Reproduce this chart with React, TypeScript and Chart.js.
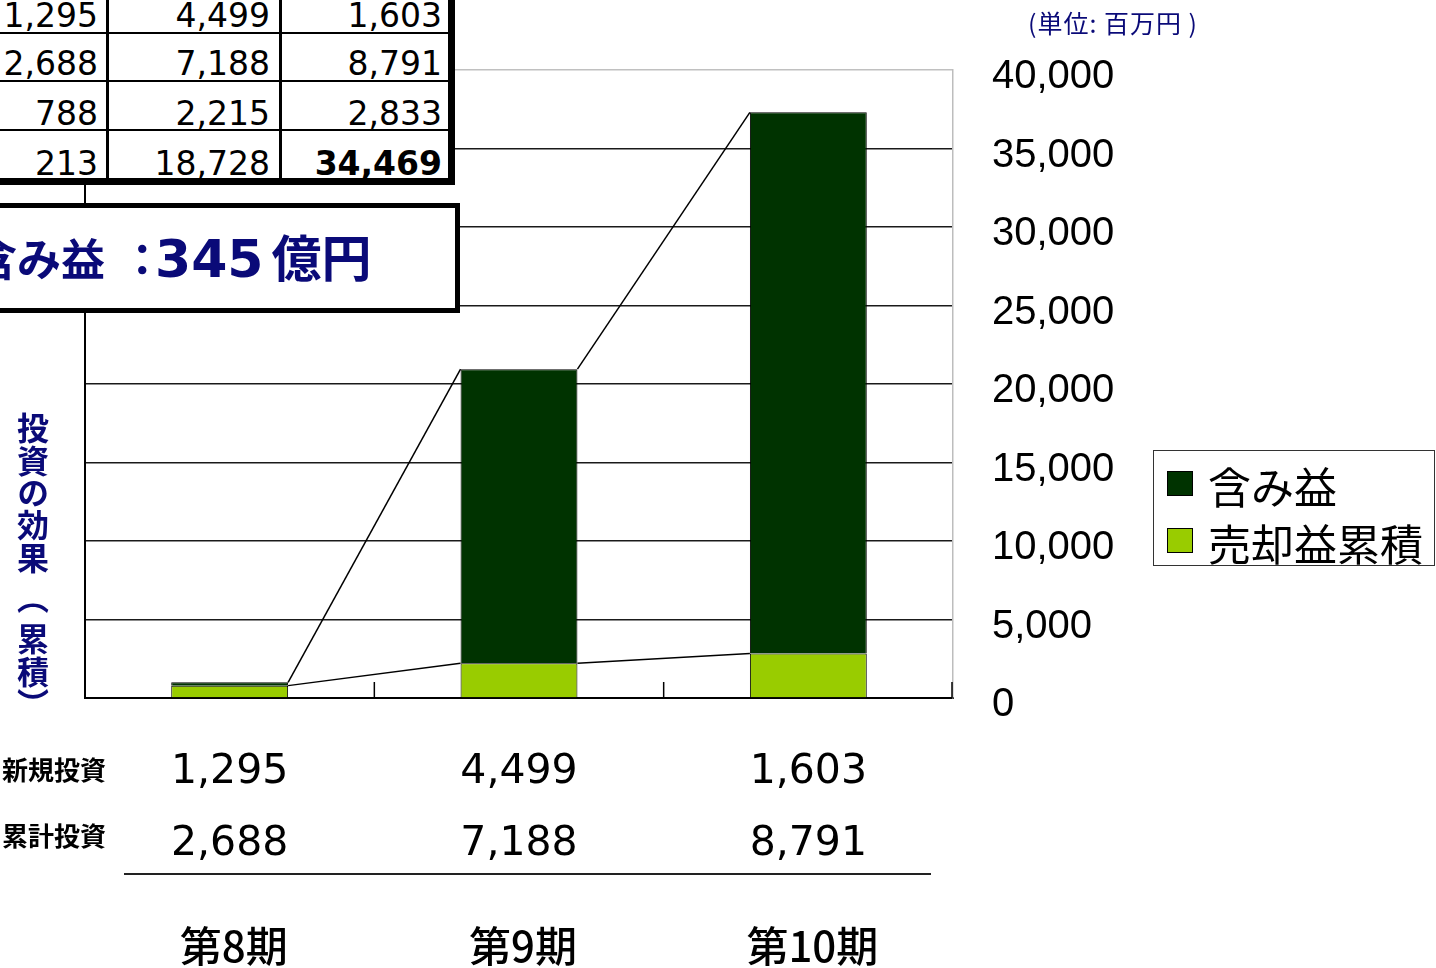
import React, { useEffect, useRef } from 'react';
import { Chart, registerables } from 'chart.js';

Chart.register(...registerables);

// ---- data ----
const periods = ['第8期', '第9期', '第10期'];
const saleGainCumulative = [788, 2215, 2833]; // 売却益累積
const unrealizedGain = [213, 18728, 34469]; // 含み益
const newInvestment = [1295, 4499, 1603]; // 新規投資
const cumulativeInvestment = [2688, 7188, 8791]; // 累計投資
const seriesLabels = ['含み益', '売却益累積'];
const seriesColors = ['#003300', '#99CC00'];
const bottomRowLabels = ['新規投資', '累計投資'];
const yMin = 0;
const yMax = 40000;
const yStep = 5000;
const unitLabel = '(単位: 百万円 )';
const sideTitle = '投資の効果（累積）';
const boxLabel = '含み益 ：';
const boxValue = '345億円';

const fmt = (v: number) => v.toLocaleString('en-US');
const NAVY = '#0a0a78';

const overlayPlugin = {
  id: 'overlayPlugin',
  afterDatasetsDraw(chart: any) {
    const ctx = chart.ctx;
    ctx.save();
    ctx.strokeStyle = '#000';
    ctx.lineWidth = 1.5;
    chart.data.datasets.forEach((_ds: any, di: number) => {
      const meta = chart.getDatasetMeta(di);
      for (let i = 0; i < meta.data.length - 1; i++) {
        const a = meta.data[i];
        const b = meta.data[i + 1];
        ctx.beginPath();
        ctx.moveTo(a.x + a.width / 2, a.y);
        ctx.lineTo(b.x - b.width / 2, b.y);
        ctx.stroke();
      }
    });
    ctx.restore();
  },
  afterDraw(chart: any) {
    const ctx = chart.ctx;
    const xs = chart.scales.x;
    const area = chart.chartArea;
    const n = chart.data.labels.length;
    ctx.save();
    // inner tick marks on the category axis
    ctx.strokeStyle = '#000';
    ctx.lineWidth = 1.5;
    const tickXs: number[] = [];
    for (let i = 0; i < n - 1; i++) {
      tickXs.push((xs.getPixelForValue(i) + xs.getPixelForValue(i + 1)) / 2);
    }
    tickXs.push(area.right - 1);
    tickXs.forEach((tx) => {
      ctx.beginPath();
      ctx.moveTo(tx, area.bottom);
      ctx.lineTo(tx, area.bottom - 16);
      ctx.stroke();
    });
    // data table below the axis
    const rows = [newInvestment, cumulativeInvestment];
    const baselines = [area.bottom + 85, area.bottom + 157];
    const labelMids = [area.bottom + 72, area.bottom + 138];
    rows.forEach((row, r) => {
      ctx.fillStyle = '#000';
      ctx.font = 'bold 26px "Noto Sans CJK JP"';
      ctx.textAlign = 'left';
      ctx.textBaseline = 'middle';
      ctx.fillText(bottomRowLabels[r], 2, labelMids[r]);
      ctx.font = '41px "DejaVu Sans"';
      ctx.textAlign = 'center';
      ctx.textBaseline = 'alphabetic';
      row.forEach((v, i) => {
        ctx.fillText(fmt(v), xs.getPixelForValue(i), baselines[r]);
      });
    });
    ctx.strokeStyle = '#222';
    ctx.lineWidth = 2;
    ctx.beginPath();
    ctx.moveTo(124, area.bottom + 176);
    ctx.lineTo(931, area.bottom + 176);
    ctx.stroke();
    ctx.restore();
  },
};

function TopTable() {
  const rows = [newInvestment, cumulativeInvestment, saleGainCumulative, unrealizedGain];
  const textRight = [98, 270, 442];
  const baselines = [27, 75, 125, 175];
  const hLines = [
    { top: 32, h: 2 },
    { top: 80, h: 2 },
    { top: 129, h: 2 },
    { top: 178, h: 7 },
  ];
  const vLines = [
    { left: 106, w: 3 },
    { left: 279, w: 3 },
    { left: 448, w: 7 },
  ];
  return (
    <div
      style={{
        position: 'absolute',
        left: -80,
        top: -20,
        width: 80 + 455,
        height: 20 + 185,
        background: '#fff',
        zIndex: 2,
      }}
    >
      {hLines.map((l, i) => (
        <div
          key={'h' + i}
          style={{ position: 'absolute', left: 0, top: l.top + 20, width: 80 + 455, height: l.h, background: '#000' }}
        />
      ))}
      {vLines.map((l, i) => (
        <div
          key={'v' + i}
          style={{ position: 'absolute', left: l.left + 80, top: 0, width: l.w, height: 20 + 185, background: '#000' }}
        />
      ))}
      {rows.map((row, r) =>
        row.map((v, c) => {
          const bold = r === rows.length - 1 && c === row.length - 1;
          return (
            <div
              key={r + '-' + c}
              style={{
                position: 'absolute',
                right: 80 + 455 - (textRight[c] + 80),
                top: baselines[r] - 28 + 20,
                height: 33,
                lineHeight: '33px',
                fontSize: 33,
                fontFamily: '"DejaVu Sans"',
                fontWeight: bold ? 'bold' : 'normal',
                color: '#000',
                whiteSpace: 'nowrap',
                textAlign: 'right',
              }}
            >
              {fmt(v)}
            </div>
          );
        })
      )}
    </div>
  );
}

function Legend() {
  const order = [0, 1];
  return (
    <div
      style={{
        position: 'absolute',
        left: 1153,
        top: 450,
        width: 282,
        height: 116,
        border: '1.5px solid #333',
        background: '#fff',
        boxSizing: 'border-box',
        zIndex: 2,
      }}
    >
      {order.map((k, i) => (
        <div key={k} style={{ position: 'absolute', left: 0, top: 0 }}>
          <div
            style={{
              position: 'absolute',
              left: 13,
              top: 20 + i * 57,
              width: 26,
              height: 25,
              background: seriesColors[k],
              border: '1px solid #000',
              boxSizing: 'border-box',
            }}
          />
          <div
            style={{
              position: 'absolute',
              left: 54,
              top: 9 + i * 57,
              fontSize: 43,
              lineHeight: '50px',
              fontFamily: '"Noto Sans CJK JP"',
              color: '#000',
              whiteSpace: 'nowrap',
            }}
          >
            {seriesLabels[k]}
          </div>
        </div>
      ))}
    </div>
  );
}

function SideTitle() {
  const chars = Array.from(sideTitle);
  return (
    <div
      style={{
        position: 'absolute',
        left: 16,
        top: 412,
        width: 34,
        display: 'flex',
        flexDirection: 'column',
        zIndex: 2,
      }}
    >
      {chars.map((ch, i) => {
        const h = ch === '（' ? 49 : ch === '）' ? 20 : 32.4;
        return (
          <div
            key={i}
            style={{
              height: h,
              width: 34,
              writingMode: 'vertical-rl',
              textAlign: 'center',
              fontSize: 32,
              lineHeight: '34px',
              fontWeight: 'bold',
              fontFamily: '"Noto Sans CJK JP"',
              color: NAVY,
              whiteSpace: 'nowrap',
              overflow: 'visible',
            } as any}
          >
            {ch}
          </div>
        );
      })}
    </div>
  );
}

export default function App() {
  const ref = useRef<HTMLCanvasElement>(null);
  useEffect(() => {
    const chart = new Chart(ref.current as HTMLCanvasElement, {
      type: 'bar',
      data: {
        labels: periods,
        datasets: [
          {
            label: seriesLabels[1],
            data: saleGainCumulative,
            backgroundColor: seriesColors[1],
            borderColor: '#000',
            borderWidth: 1,
            categoryPercentage: 1,
            barPercentage: 0.404,
          },
          {
            label: seriesLabels[0],
            data: unrealizedGain,
            backgroundColor: seriesColors[0],
            borderColor: '#000',
            borderWidth: 1,
            categoryPercentage: 1,
            barPercentage: 0.404,
          },
        ],
      },
      options: {
        responsive: false,
        animation: false,
        layout: { padding: { left: 85, top: 70, right: 0, bottom: 0 } },
        plugins: { legend: { display: false }, tooltip: { enabled: false } },
        scales: {
          x: {
            stacked: true,
            grid: { display: false },
            border: { color: '#000', width: 2 },
            ticks: {
              padding: 215,
              labelOffset: 4,
              color: '#000',
              font: { family: '"Noto Sans CJK JP"', size: 42, weight: '500' },
            },
            afterFit: (s: any) => {
              s.height = 270;
              s.paddingLeft = 0;
              s.paddingRight = 0;
            },
          },
          y: {
            stacked: true,
            position: 'right',
            min: yMin,
            max: yMax,
            ticks: {
              stepSize: yStep,
              padding: 39,
              labelOffset: 7,
              color: '#000',
              font: { family: '"Liberation Sans", Arial', size: 40 },
              callback: (v: any) => fmt(Number(v)),
            },
            grid: {
              drawTicks: false,
              color: (c: any) => (c.tick && c.tick.value === yMax ? '#c0c0c0' : '#1a1a1a'),
              lineWidth: 1.5,
            },
            border: { color: '#bdbdbd', width: 1.5 },
            afterFit: (s: any) => {
              s.width = 1436 - 953;
              s.paddingTop = 0;
              s.paddingBottom = 0;
            },
          },
          yl: {
            position: 'left',
            display: true,
            ticks: { display: false },
            grid: { display: false, drawTicks: false },
            border: { color: '#000', width: 2 },
            afterFit: (s: any) => {
              s.width = 0;
            },
          },
        },
      } as any,
      plugins: [overlayPlugin],
    });
    return () => chart.destroy();
  }, []);

  const m = boxValue.match(/^([0-9,]+)(.*)$/);
  const boxDigits = m ? m[1] : boxValue;
  const boxUnit = m ? m[2] : '';

  return (
    <div
      style={{
        position: 'fixed',
        left: 0,
        top: 0,
        width: 1436,
        height: 968,
        overflow: 'hidden',
        background: '#fff',
      }}
    >
      <canvas
        ref={ref}
        width={1436}
        height={968}
        style={{ position: 'absolute', left: 0, top: 0, display: 'block' }}
      />
      <TopTable />
      <div
        style={{
          position: 'absolute',
          left: -30,
          top: 203,
          width: 490,
          height: 110,
          border: '5px solid #000',
          boxSizing: 'border-box',
          background: '#fff',
          zIndex: 2,
        }}
      />
      <div
        style={{
          position: 'absolute',
          left: -27,
          top: 231,
          fontSize: 44,
          lineHeight: '60px',
          fontWeight: 'bold',
          fontFamily: '"DejaVu Sans", "Noto Sans CJK JP"',
          color: NAVY,
          whiteSpace: 'nowrap',
          zIndex: 3,
        }}
      >
        {boxLabel}
      </div>
      <div
        style={{
          position: 'absolute',
          left: 155,
          top: 229,
          fontSize: 52,
          lineHeight: '60px',
          fontWeight: 'bold',
          fontFamily: '"DejaVu Sans", "Noto Sans CJK JP"',
          color: NAVY,
          whiteSpace: 'nowrap',
          zIndex: 3,
        }}
      >
        {boxDigits}
        <span style={{ fontSize: 50, marginLeft: 8 }}>{boxUnit}</span>
      </div>
      <SideTitle />
      <div
        style={{
          position: 'absolute',
          left: 1028,
          top: 7,
          fontSize: 25,
          lineHeight: '30px',
          letterSpacing: 1,
          fontFamily: '"Noto Sans CJK JP"',
          color: NAVY,
          whiteSpace: 'nowrap',
          zIndex: 2,
        }}
      >
        {unitLabel}
      </div>
      <Legend />
    </div>
  );
}
